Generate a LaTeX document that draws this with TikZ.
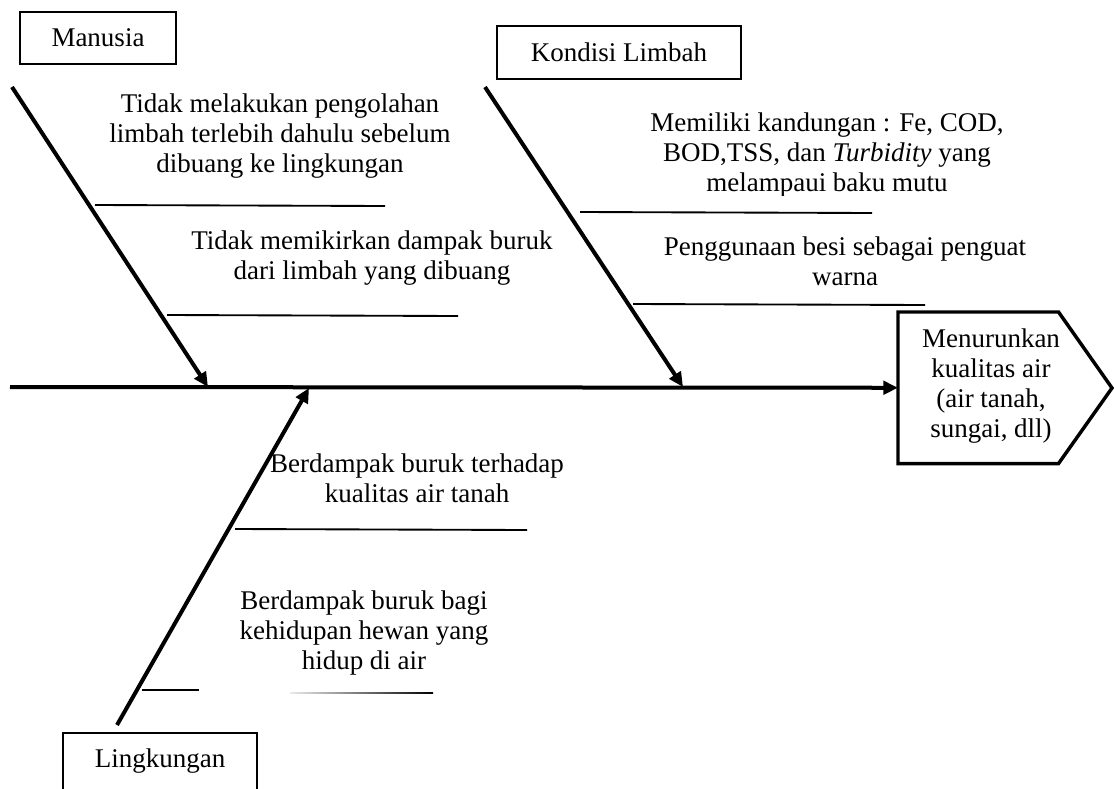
\documentclass[tikz,border=0pt]{standalone}
\usepackage{fontspec}
\setmainfont{Liberation Serif}
\usetikzlibrary{arrows.meta}
\begin{document}
\begin{tikzpicture}[x=0.75pt,y=-0.75pt,
  every node/.style={font=\fontsize{20.25}{22.5}\selectfont, inner sep=0pt},
  label/.style={align=center},
  catbox/.style={draw, line width=1.4pt},
  bone/.style={line width=3pt, -{Triangle[length=11pt,width=10pt]}},
  spine/.style={line width=3pt, -{Triangle[length=11pt,width=10pt]}},
  sub/.style={line width=1.4pt}]
\useasboundingbox (0,0) rectangle (1114,789);
\clip (0,0) rectangle (1114,789);

% category boxes
\node[catbox, minimum width=117pt, minimum height=39pt] (manusia) at (98,38) {Manusia};
\node[catbox, minimum width=183pt, minimum height=39.75pt] (kondisi) at (619,52.5) {Kondisi Limbah};
\node[catbox, minimum width=145.5pt, minimum height=60pt, anchor=north] (lingbox) at (160,732) {};
\node (lingtext) at (160,761) {Lingkungan};

% head
\node[minimum width=120pt, minimum height=113.25pt, anchor=north west] (headbox) at (898,312) {};
\coordinate (tip) at (1112,388);
\draw[line width=2.6pt, line join=miter] (headbox.north west) -- (headbox.north east) -- (tip) -- (headbox.south east) -- (headbox.south west) -- cycle;
\node[label] (headtext) at (991,386.5) {Menurunkan\\kualitas air\\(air tanah,\\sungai, dll)};

% spine
\coordinate (s0) at (10,387);
\draw[spine] (s0) -- (headbox.west);

% bones
\coordinate (m0) at (12,87);
\coordinate (m1) at (208,387);
\draw[bone] (m0) -- (m1);
\coordinate (k0) at (485,87);
\coordinate (k1) at (683,387);
\draw[bone] (k0) -- (k1);
\coordinate (l0) at (117,725);
\coordinate (l1) at (309,388);
\draw[bone] (l0) -- (l1);

% sub-bones
\coordinate (ma) at (95,205); \coordinate (mb) at (385,206);
\draw[sub] (ma) -- (mb);
\coordinate (mc) at (167,315); \coordinate (md) at (458,316);
\draw[sub] (mc) -- (md);
\coordinate (ka) at (580,212); \coordinate (kb) at (872,213);
\draw[sub] (ka) -- (kb);
\coordinate (kc) at (633,304); \coordinate (kd) at (925,305);
\draw[sub] (kc) -- (kd);
\coordinate (la) at (235,529); \coordinate (lb) at (527,530);
\draw[sub] (la) -- (lb);
\coordinate (lc) at (142,690); \coordinate (ld) at (199,690);
\draw[sub] (lc) -- (ld);
\shade[left color=black!8, right color=black] (290,692.4) rectangle (433,693.8);

% cause texts
\node[label] (t1) at (280,136) {Tidak melakukan pengolahan\\limbah terlebih dahulu sebelum\\dibuang ke lingkungan};
\node[label] (t2) at (372,258) {Tidak memikirkan dampak buruk\\dari limbah yang dibuang};
\begin{scope}
\clip (600,100) rectangle (1060,195);
\node[label] (t3) at (827,155.5) {Memiliki kandungan : Fe, COD,\\BOD,TSS, dan \textit{Turbidity} yang\\melampaui baku mutu};
\end{scope}
\node[label] (t4) at (845,261.5) {Penggunaan besi sebagai penguat\\warna};
\node[label] (t5) at (417,478) {Berdampak buruk terhadap\\kualitas air tanah};
\node[label] (t6) at (364,633) {Berdampak buruk bagi\\kehidupan hewan yang\\hidup di air};
\end{tikzpicture}
\end{document}
